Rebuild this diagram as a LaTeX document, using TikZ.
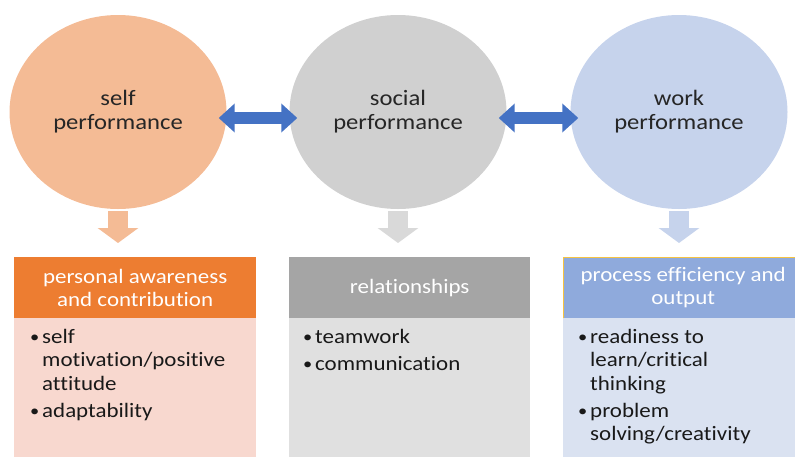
\documentclass[tikz,border=0pt]{standalone}
\usepackage{fontspec}
\setmainfont{Carlito}[FakeStretch=1.12, Ligatures={NoCommon}]
\usetikzlibrary{shapes.geometric,arrows.meta}
\definecolor{circA}{HTML}{F4BB95}
\definecolor{circB}{HTML}{D0D0D0}
\definecolor{circC}{HTML}{C6D3EC}
\definecolor{headA}{HTML}{ED7D31}
\definecolor{headB}{HTML}{A5A5A5}
\definecolor{headC}{HTML}{8FAADC}
\definecolor{bodyA}{HTML}{F8D8CF}
\definecolor{bodyB}{HTML}{E0E0E0}
\definecolor{bodyC}{HTML}{DAE2F1}
\definecolor{downB}{HTML}{D9D9D9}
\definecolor{arrowblue}{HTML}{4472C4}
\definecolor{arrowedge}{HTML}{2F528F}
\definecolor{yellowline}{HTML}{F5C342}
\begin{document}
\begin{tikzpicture}[x=1pt,y=-1pt,
  circ/.style={ellipse, minimum width=217pt, minimum height=194pt, inner sep=0pt,
    font=\fontsize{22}{24}\selectfont, align=center, text=black!85},
  head/.style={rectangle, anchor=north west, minimum height=61pt, inner sep=0pt,
    text=white, align=center, font=\fontsize{20.5}{22.5}\selectfont},
  body/.style={rectangle, anchor=north west, minimum height=140pt, inner sep=0pt},
  items/.style={anchor=base west, inner sep=0pt, font=\fontsize{20.5}{23.5}\selectfont, text=black!90},
  dbl/.style={line width=12pt, draw=arrowblue,
    {Triangle[length=16pt,width=28pt]}-{Triangle[length=16pt,width=28pt]},
    shorten <=-8pt, shorten >=-8pt},
  down/.style={line width=20pt, -{Triangle[length=15pt,width=40pt]},
    shorten <=2pt, shorten >=14pt}
]
\useasboundingbox (0,0) rectangle (795,456);
\newcommand{\bul}{\makebox[13pt][l]{\hspace{1pt}\raisebox{1pt}{\scalebox{0.8}{\textbullet}}}}

% circles
\node[circ, fill=circA] (c1) at (118,112) {self\\performance};
\node[circ, fill=circB] (c2) at (398,112) {social\\performance};
\node[circ, fill=circC] (c3) at (679,112) {work\\performance};

% boxes
\node[body, fill=bodyA, minimum width=242pt] (b1) at (14,318) {};
\node[body, fill=bodyB, minimum width=241pt] (b2) at (289,318) {};
\node[body, fill=bodyC, minimum width=240pt] (b3) at (563,318) {};
\node[head, fill=headA, minimum width=242pt] (h1) at (14,257) {personal awareness\\and contribution};
\node[head, fill=headB, minimum width=241pt] (h2) at (289,257) {relationships};
\node[head, fill=headC, minimum width=240pt] (h3) at (563,257) {process efficiency and\\output};
\draw[yellowline, line width=1pt] (h3.south west) -- (h3.north west) -- (h3.north east);

% bullet lists
\node[items] (l1) at (29,343) {\begin{tabular}[t]{@{}l@{}}
\bul self\\
\hspace{13pt}motivation/positive\\
\hspace{13pt}attitude\\[3.5pt]
\bul adaptability
\end{tabular}};
\node[items] (l2) at (302,343) {\begin{tabular}[t]{@{}l@{}}
\bul teamwork\\[3.5pt]
\bul communication
\end{tabular}};
\node[items] (l3) at (577,343) {\begin{tabular}[t]{@{}l@{}}
\bul readiness to\\
\hspace{13pt}learn/critical\\
\hspace{13pt}thinking\\[3.5pt]
\bul problem\\
\hspace{13pt}solving/creativity
\end{tabular}};

% horizontal double arrows
\draw[dbl] ([yshift=-6pt]c1.east) -- ([yshift=-6pt]c2.west);
\draw[dbl] ([yshift=-6pt]c2.east) -- ([yshift=-6pt]c3.west);

% down arrows
\draw[down, draw=circA] (c1.south) -- (h1.north -| c1.south);
\draw[down, draw=downB] (c2.south) -- (h2.north -| c2.south);
\draw[down, draw=circC] (c3.south) -- (h3.north -| c3.south);
\end{tikzpicture}
\end{document}
